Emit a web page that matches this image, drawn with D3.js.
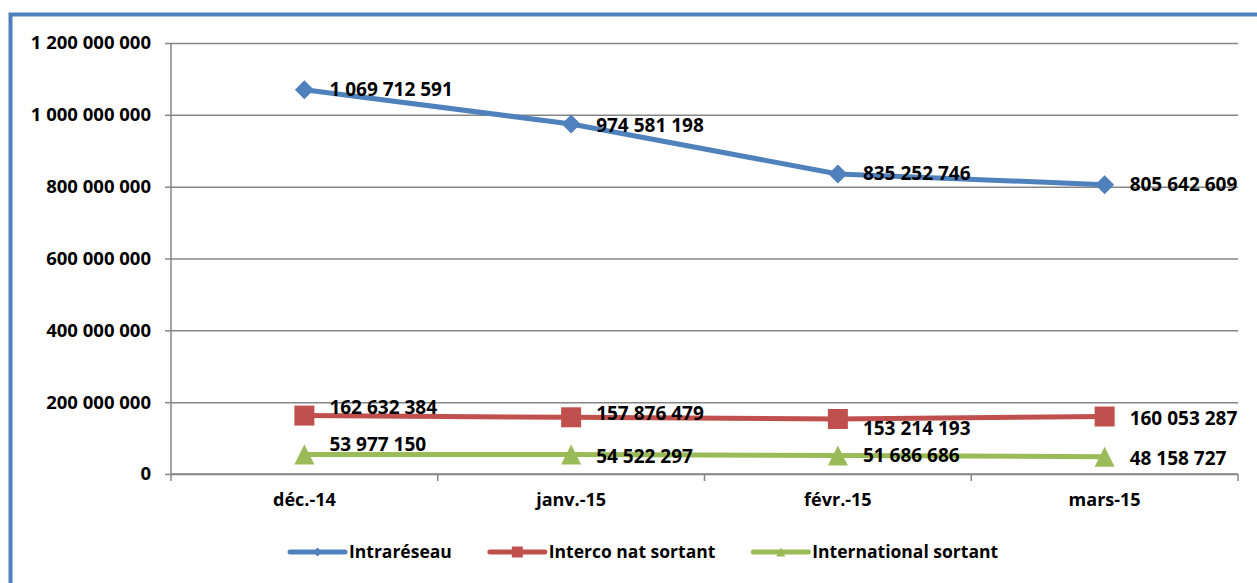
<!DOCTYPE html>
<html>
<head>
<meta charset="utf-8">
<script src="https://cdn.jsdelivr.net/npm/d3@7"></script>
<style>
    body { margin: 0; background: #fff; }
    svg { display: block; }
    text { font-family: "Open Sans", sans-serif; font-weight: bold; fill: #000; }
</style>
</head>
<body>
<script>
// data
const categories = ["déc.-14", "janv.-15", "févr.-15", "mars-15"];
const intrareseau = [1069712591, 974581198, 835252746, 805642609];
const intercoNat = [162632384, 157876479, 153214193, 160053287];
const international = [53977150, 54522297, 51686686, 48158727];
const yTicks = [0, 200000000, 400000000, 600000000, 800000000, 1000000000, 1200000000];
const seriesNames = ["Intraréseau", "Interco nat sortant", "International sortant"];

// small vertical nudges of the value labels, as placed in the original
const labelNudge = [
    [0, 1, -1, 0],
    [-8, -4, 9, 2],
    [-10, 2, 0, 2]
];

const width = 1257, height = 583;
const colors = ["#4F81BD", "#C0504D", "#9BBB59"];
const shapes = ["diamond", "square", "triangle"];
const numSize = "19px";

const series = [intrareseau, intercoNat, international].map((vals, i) => ({
    name: seriesNames[i],
    color: colors[i],
    shape: shapes[i],
    nudge: labelNudge[i],
    points: vals.map((v, j) => ({ cat: categories[j], value: v, j: j }))
}));

const svg = d3.select("body").append("svg")
    .attr("width", width)
    .attr("height", height);

svg.append("rect").attr("width", width).attr("height", height).attr("fill", "#fff");

// chart frame (only top & left visible in the crop)
svg.append("rect")
    .attr("x", 10.5).attr("y", 14.5)
    .attr("width", width + 20).attr("height", height + 20)
    .attr("fill", "none")
    .attr("stroke", "#4F81BD")
    .attr("stroke-width", 4);

const plot = { left: 171, right: 1238, top: 43, bottom: 474 };

const x = d3.scaleBand().domain(categories).range([plot.left, plot.right]);
const cx = c => x(c) + x.bandwidth() / 2;
const y = d3.scaleLinear().domain([0, 1200000000]).range([plot.bottom, plot.top]);

const fmt = v => d3.format(",")(v).replace(/,/g, " ");

// gridlines
svg.append("g")
    .attr("transform", "translate(" + plot.left + ",0)")
    .call(d3.axisLeft(y).tickValues(yTicks).tickSize(-(plot.right - plot.left)).tickFormat(""))
    .call(g => g.select(".domain").remove())
    .call(g => g.selectAll("line").attr("stroke", "#868686").attr("stroke-width", 1.5));

// y axis
const yAxis = svg.append("g")
    .attr("transform", "translate(" + plot.left + ",0)")
    .call(d3.axisLeft(y).tickValues(yTicks).tickSize(6).tickPadding(14).tickFormat(fmt));
yAxis.select(".domain").attr("stroke", "#868686").attr("stroke-width", 1.5).attr("d", "M0," + plot.top + "V" + plot.bottom);
yAxis.selectAll("line").attr("stroke", "#868686").attr("stroke-width", 1.5);
yAxis.selectAll("text").style("font-size", "18.5px").style("font-family", "Open Sans").style("font-weight", "bold").attr("fill", "#000");

// x axis: labels at band centres, tick marks at band edges
const xAxis = svg.append("g")
    .attr("transform", "translate(0," + plot.bottom + ")")
    .call(d3.axisBottom(x).tickSize(0).tickPadding(19));
xAxis.select(".domain").attr("stroke", "#868686").attr("stroke-width", 1.5).attr("d", "M" + plot.left + ",0H" + plot.right);
xAxis.selectAll("text").style("font-size", "18px").style("font-family", "Open Sans").style("font-weight", "bold").attr("fill", "#000");
xAxis.selectAll(".edge")
    .data(categories.map(c => x(c)).concat([plot.right]))
    .enter().append("line")
    .attr("class", "edge")
    .attr("x1", d => d).attr("x2", d => d)
    .attr("y1", 0).attr("y2", 7)
    .attr("stroke", "#868686").attr("stroke-width", 1.5);

function markerPath(shape, r) {
    if (shape === "diamond") return "M0," + (-r) + "L" + r + ",0L0," + r + "L" + (-r) + ",0Z";
    if (shape === "square") return "M" + (-r) + "," + (-r) + "H" + r + "V" + r + "H" + (-r) + "Z";
    return "M0," + (-r) + "L" + r + "," + r + "H" + (-r) + "Z";
}

const line = d3.line().x(d => cx(d.cat)).y(d => y(d.value));

const sg = svg.selectAll(".series").data(series).enter().append("g").attr("class", "series");

sg.append("path")
    .attr("d", d => line(d.points))
    .attr("fill", "none")
    .attr("stroke", d => d.color)
    .attr("stroke-width", 5)
    .attr("stroke-linejoin", "round");

sg.each(function(s) {
    const g = d3.select(this);
    g.selectAll(".mark").data(s.points).enter().append("path")
        .attr("class", "mark")
        .attr("d", markerPath(s.shape, s.shape === "diamond" ? 9.5 : 10))
        .attr("transform", d => "translate(" + cx(d.cat) + "," + y(d.value) + ")")
        .attr("fill", s.color);
    g.selectAll(".lbl").data(s.points).enter().append("text")
        .attr("class", "lbl")
        .attr("x", d => cx(d.cat) + 25)
        .attr("y", d => y(d.value) + s.nudge[d.j])
        .attr("dy", "0.35em")
        .style("font-size", numSize)
        .text(d => fmt(d.value));
});

// legend
const legend = svg.append("g").attr("transform", "translate(290,552)");
let lx = 0;
series.forEach(s => {
    const item = legend.append("g").attr("transform", "translate(" + lx + ",0)");
    item.append("line")
        .attr("x1", 0).attr("x2", 55).attr("y1", 0).attr("y2", 0)
        .attr("stroke", s.color).attr("stroke-width", 5).attr("stroke-linecap", "round");
    item.append("path")
        .attr("d", markerPath(s.shape, s.shape === "square" ? 5.5 : 4.5))
        .attr("transform", "translate(27.5,0)")
        .attr("fill", s.color);
    const t = item.append("text")
        .attr("x", 59).attr("dy", "0.35em")
        .style("font-size", "17.5px")
        .text(s.name);
    lx += 59 + t.node().getComputedTextLength() + 38;
});
</script>
</body>
</html>
